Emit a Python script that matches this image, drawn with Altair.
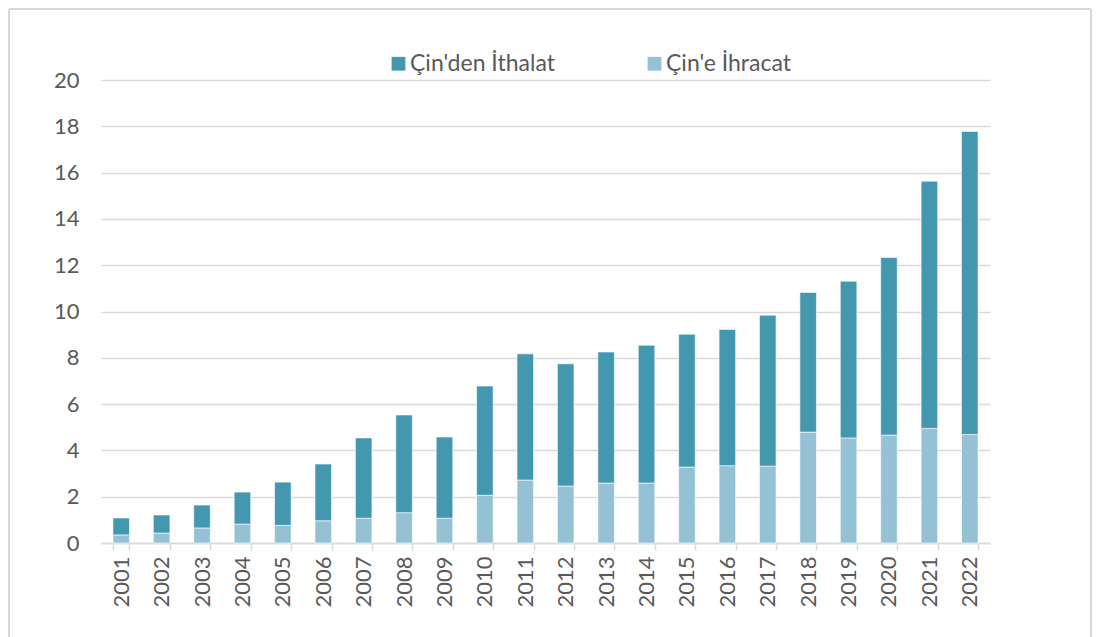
import altair as alt
import pandas as pd

years = [str(y) for y in range(2001, 2023)]
exports = [0.35, 0.43, 0.65, 0.82, 0.76, 0.96, 1.07, 1.31, 1.07, 2.06, 2.72,
           2.46, 2.59, 2.59, 3.28, 3.34, 3.32, 4.79, 4.54, 4.66, 4.95, 4.69]
totals = [1.08, 1.21, 1.64, 2.20, 2.63, 3.41, 4.54, 5.53, 4.58, 6.78, 8.17,
          7.74, 8.25, 8.54, 9.02, 9.22, 9.84, 10.82, 11.31, 12.33, 15.63, 17.78]
imports = [round(t - e, 2) for t, e in zip(totals, exports)]

series_imp = "Çin'den İthalat"
series_exp = "Çin'e İhracat"
y_ticks = list(range(0, 21, 2))

rows = []
for y, e, i in zip(years, exports, imports):
    rows.append({"Yıl": y, "Seri": series_exp, "Değer": e, "ord": 0})
    rows.append({"Yıl": y, "Seri": series_imp, "Değer": i, "ord": 1})
df = pd.DataFrame(rows)

FONT = "Lato"
GRAY = "#595959"
LINE = "#d9d9d9"

bars = alt.Chart(df).mark_bar(stroke="white", strokeWidth=0.6).encode(
    x=alt.X("Yıl:N", sort=years,
            scale=alt.Scale(paddingInner=0.59, paddingOuter=0.295),
            axis=alt.Axis(title=None, labelAngle=-90, labelAlign="right",
                          labelBaseline="middle", labelPadding=6,
                          labelFontSize=22, labelColor=GRAY, labelFont=FONT,
                          domainColor=LINE, domainWidth=1.5, tickColor=LINE,
                          tickWidth=1.5, tickSize=7, tickBand="extent",
                          grid=False)),
    y=alt.Y("Değer:Q", stack="zero",
            scale=alt.Scale(domain=[0, 20], nice=False),
            axis=alt.Axis(title=None, values=y_ticks, labelFontSize=22,
                          labelColor=GRAY, labelFont=FONT, labelPadding=22,
                          domain=False, ticks=False, gridColor=LINE,
                          gridWidth=1.5)),
    color=alt.Color("Seri:N",
                    scale=alt.Scale(domain=[series_imp, series_exp],
                                    range=["#4398B0", "#94C2D4"]),
                    legend=alt.Legend(title=None, orient="none",
                                      direction="horizontal",
                                      legendX=286, legendY=-28,
                                      symbolType="square", symbolSize=190,
                                      symbolStrokeWidth=0,
                                      labelFontSize=23, labelColor=GRAY,
                                      labelFont=FONT, labelOffset=0,
                                      columnPadding=88, padding=0)),
    order=alt.Order("ord:Q"),
)

one = pd.DataFrame({"k": [0]})
edge_top = alt.Chart(one).mark_rule(color=LINE, strokeWidth=2).encode(
    x=alt.value(-92), x2=alt.value(990), y=alt.value(-71))
edge_left = alt.Chart(one).mark_rule(color=LINE, strokeWidth=2).encode(
    x=alt.value(-92), y=alt.value(-71), y2=alt.value(580))
edge_right = alt.Chart(one).mark_rule(color=LINE, strokeWidth=2).encode(
    x=alt.value(990), y=alt.value(-71), y2=alt.value(580))

chart = alt.layer(edge_top, edge_left, edge_right, bars).properties(
    width=889, height=463,
    autosize=alt.AutoSizeParams(type="none"),
    padding={"left": 93, "top": 72, "right": 103, "bottom": 100},
    view=alt.ViewBackground(stroke="transparent", strokeWidth=0),
).configure_view(stroke="transparent", strokeWidth=0).configure(font=FONT)

chart.save("out.html", embed_options={"renderer": "svg", "actions": False})
